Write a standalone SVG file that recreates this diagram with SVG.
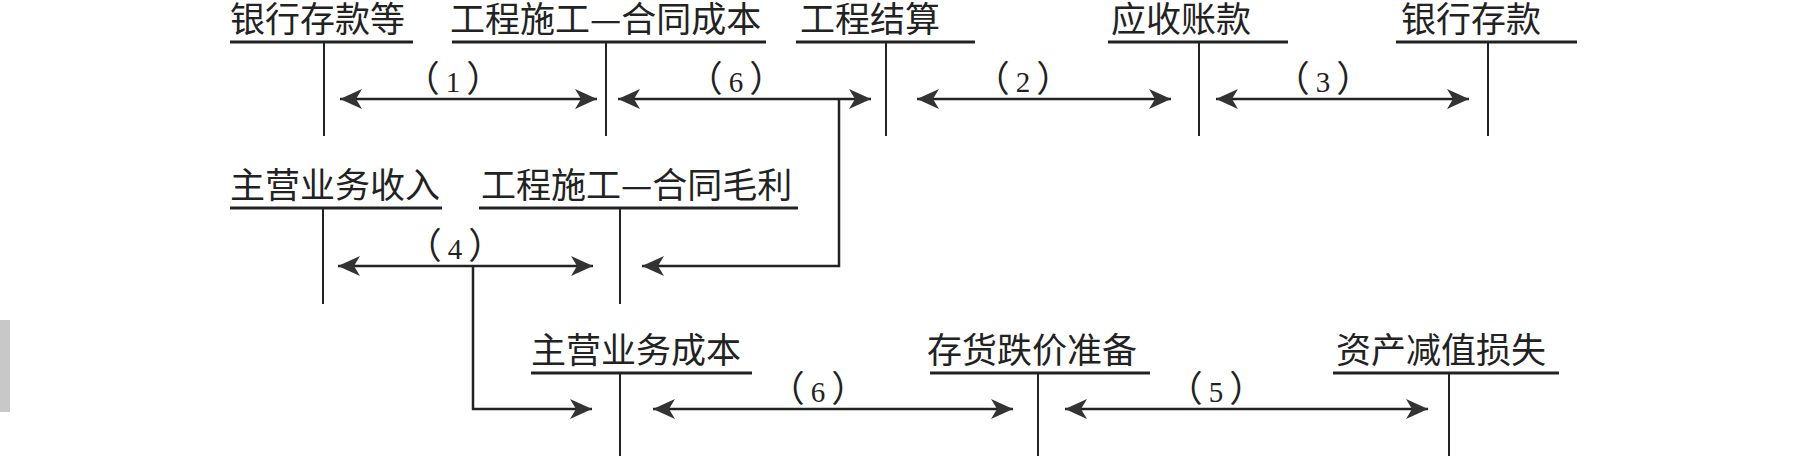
<svg xmlns="http://www.w3.org/2000/svg" width="1800" height="456" viewBox="0 0 1800 456">
<style>
.t{font-family:"Noto Sans CJK SC","Noto Sans CJK TC",sans-serif;font-size:35px;fill:#222}
.l{font-family:"Liberation Serif","Noto Sans CJK SC",serif;font-size:29px;fill:#222;text-anchor:middle}
.p{font-family:"Noto Sans CJK SC",sans-serif;font-size:36px}
.u{stroke:#222;stroke-width:3;fill:none}
.v{stroke:#222;stroke-width:2;fill:none}
.c{stroke:#222;stroke-width:2.5;fill:none}
.a{marker-start:url(#ah);marker-end:url(#ah)}
.e{marker-end:url(#ah)}
</style>
<defs>
<marker id="ah" markerUnits="userSpaceOnUse" markerWidth="24" markerHeight="22" refX="22" refY="11" orient="auto-start-reverse" viewBox="0 0 24 22">
<path d="M0,1 L22,11 L0,21 L6,11 z" fill="#333"/>
</marker>
</defs>
<rect x="0" y="320" width="10" height="92" fill="#c8c8c8"/>
<g id="n1"><text class="t" x="230" y="32">银行存款等</text><line class="u" x1="230" y1="42" x2="413" y2="42"/><line class="v" x1="324" y1="42" x2="324" y2="136"/></g>
<g id="n2"><text class="t" x="450" y="32">工程施工—合同成本</text><line class="u" x1="452" y1="42" x2="766" y2="42"/><line class="v" x1="606" y1="42" x2="606" y2="136"/></g>
<g id="n3"><text class="t" x="800" y="32">工程结算</text><line class="u" x1="796" y1="42" x2="975" y2="42"/><line class="v" x1="886" y1="42" x2="886" y2="136"/></g>
<g id="n4"><text class="t" x="1111" y="32">应收账款</text><line class="u" x1="1108" y1="42" x2="1288" y2="42"/><line class="v" x1="1199" y1="42" x2="1199" y2="136"/></g>
<g id="n5"><text class="t" x="1401" y="32">银行存款</text><line class="u" x1="1396" y1="42" x2="1577" y2="42"/><line class="v" x1="1488" y1="42" x2="1488" y2="136"/></g>
<g id="n6"><text class="t" x="230" y="198">主营业务收入</text><line class="u" x1="230" y1="208" x2="442" y2="208"/><line class="v" x1="323" y1="208" x2="323" y2="304"/></g>
<g id="n7"><text class="t" x="481" y="198">工程施工—合同毛利</text><line class="u" x1="479" y1="208" x2="798" y2="208"/><line class="v" x1="620" y1="208" x2="620" y2="304"/></g>
<g id="n8"><text class="t" x="531" y="363">主营业务成本</text><line class="u" x1="531" y1="373" x2="752" y2="373"/><line class="v" x1="620" y1="373" x2="620" y2="456"/></g>
<g id="n9"><text class="t" x="927" y="363">存货跌价准备</text><line class="u" x1="930" y1="373" x2="1150" y2="373"/><line class="v" x1="1038" y1="373" x2="1038" y2="456"/></g>
<g id="n10"><text class="t" x="1336" y="363">资产减值损失</text><line class="u" x1="1333" y1="373" x2="1559" y2="373"/><line class="v" x1="1449" y1="373" x2="1449" y2="456"/></g>
<g id="connectors">
<line class="c a" x1="340" y1="99" x2="597" y2="99"/>
<line class="c a" x1="618" y1="99" x2="871" y2="99"/>
<polyline class="c e" points="839,99 839,266 642,266"/>
<line class="c a" x1="917" y1="99" x2="1171" y2="99"/>
<line class="c a" x1="1216" y1="99" x2="1469" y2="99"/>
<line class="c a" x1="338" y1="266" x2="593" y2="266"/>
<polyline class="c e" points="473,266 473,409 592,409"/>
<line class="c a" x1="653" y1="409" x2="1013" y2="409"/>
<line class="c a" x1="1065" y1="409" x2="1428" y2="409"/>
<text class="l" x="453" y="92"><tspan class="p">（</tspan><tspan dx="6">1</tspan><tspan class="p" dx="6">）</tspan></text>
<text class="l" x="736" y="92"><tspan class="p">（</tspan><tspan dx="6">6</tspan><tspan class="p" dx="6">）</tspan></text>
<text class="l" x="1023" y="92"><tspan class="p">（</tspan><tspan dx="6">2</tspan><tspan class="p" dx="6">）</tspan></text>
<text class="l" x="1323" y="92"><tspan class="p">（</tspan><tspan dx="6">3</tspan><tspan class="p" dx="6">）</tspan></text>
<text class="l" x="455" y="259"><tspan class="p">（</tspan><tspan dx="6">4</tspan><tspan class="p" dx="6">）</tspan></text>
<text class="l" x="818" y="402"><tspan class="p">（</tspan><tspan dx="6">6</tspan><tspan class="p" dx="6">）</tspan></text>
<text class="l" x="1216" y="402"><tspan class="p">（</tspan><tspan dx="6">5</tspan><tspan class="p" dx="6">）</tspan></text>
</g>
</svg>
